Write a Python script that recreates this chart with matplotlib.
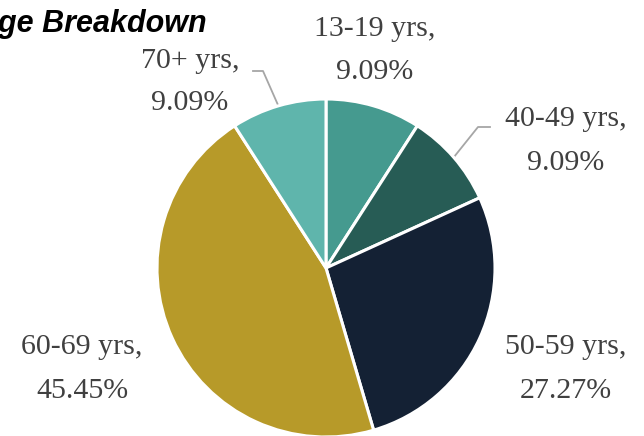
import numpy as np
import matplotlib
matplotlib.use("Agg")
from matplotlib import pyplot as plt

# age groups in drawing order (clockwise from 12 o'clock)
groups = ["13-19 yrs", "40-49 yrs", "50-59 yrs", "60-69 yrs", "70+ yrs"]
counts = [1, 1, 3, 5, 1]
colors = ["#459A8F", "#275C55", "#142134", "#B79A29", "#5FB5AC"]
title = "Age Breakdown"

W, H = 644, 436
fig = plt.figure(figsize=(W / 100, H / 100), dpi=100)
ax = fig.add_axes([0, 0, 1, 1])
ax.axis("off")

cx, cy, r = 326, H - 268, 169
wedges, _ = ax.pie(counts, colors=colors, startangle=90, counterclock=False,
                   center=(cx, cy), radius=r,
                   wedgeprops=dict(edgecolor="white", linewidth=2.2))
ax.set_xlim(0, W)
ax.set_ylim(0, H)
ax.set_aspect("equal")

pcts = np.array(counts) / sum(counts) * 100
# label centres (image px) and elbow of the leader line if there is one
label_pos = [(375, 51, None), (566, 141, (490, 127)), (566, 369, None),
             (82, 369, None), (190, 82, (253, 71))]
for w, g, p, (lx, ly, elbow) in zip(wedges, groups, pcts, label_pos):
    ax.text(lx, H - ly, f"{g},\n{p:.2f}%", ha="center", va="center",
            fontsize=21.5, family="Liberation Serif", color="#404040",
            linespacing=1.85)
    if elbow is not None:
        mid = np.deg2rad((w.theta1 + w.theta2) / 2)
        ex, ey = cx + r * np.cos(mid), cy + r * np.sin(mid)
        ex0, ey0 = elbow
        step = 10 if ex0 < cx else -12
        ax.plot([ex0, ex0 + step, ex], [H - ey0, H - ey0, ey],
                color="#A6A6A6", linewidth=1.3, zorder=0)

ax.text(207, H - 32, title, ha="right", va="baseline", fontsize=22,
        fontweight="bold", fontstyle="italic", family="Liberation Sans",
        color="black")

fig.savefig("out.png", dpi=100)
